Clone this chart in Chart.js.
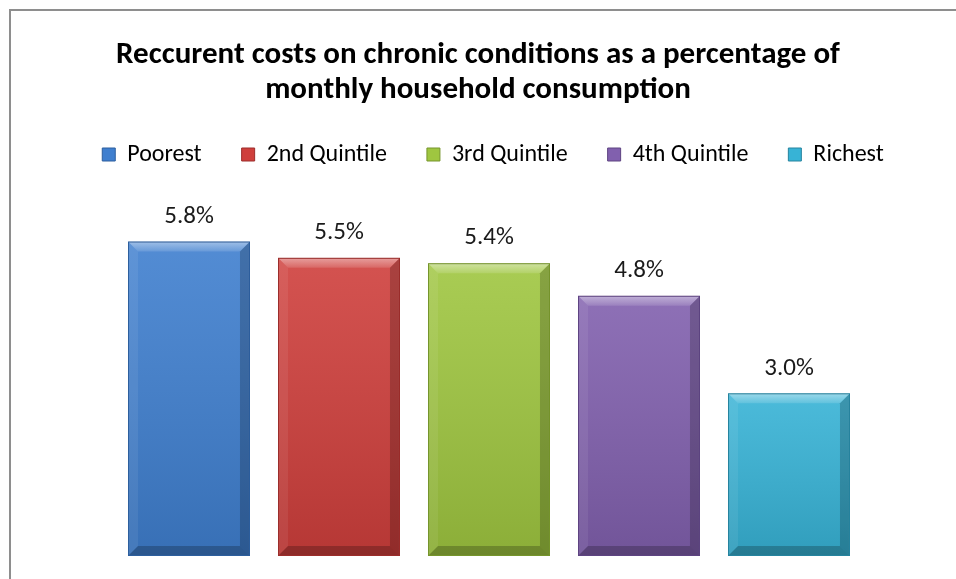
<!DOCTYPE html>
<html>
<head>
<meta charset="utf-8">
<script src="https://cdn.jsdelivr.net/npm/chart.js@4.4.1/dist/chart.umd.min.js"></script>
<style>
  html, body { margin: 0; padding: 0; background: #fff; overflow: hidden; }
  #frame {
    position: absolute; left: 9px; top: 9px; width: 1200px; height: 900px;
    border-left: 2px solid #8e8e8e; border-top: 2px solid #8e8e8e;
  }
  #chart { position: absolute; left: 0; top: 0; }
</style>
</head>
<body>
<div id="frame"></div>
<canvas id="chart" width="956" height="579"></canvas>
<script>
// Share of monthly household consumption spent on recurrent chronic-condition costs, by quintile
const quintiles = ['Poorest', '2nd Quintile', '3rd Quintile', '4th Quintile', 'Richest'];
const costShare = [5.8, 5.5, 5.4, 4.8, 3.0];
const fillColors = ['#3f7fcf', '#cf3f3c', '#9fc640', '#8160ae', '#37b3d6'];
const edgeColors = ['#2d5f9e', '#9c2d2b', '#76952c', '#5e4482', '#26849f'];
const titleLines = ['Reccurent costs on chronic conditions as a percentage of', 'monthly household consumption'];

const FONT = 'Carlito, Calibri, Lato, sans-serif';

// Nudge the legend row slightly right of the title's centre line
const legendShift = {
  id: 'legendShift',
  afterLayout(chart) {
    if (chart.legend) {
      chart.legend.left += 15;
      chart.legend.right += 15;
    }
  }
};

// Drop shadow behind the bars
const barShadow = {
  id: 'barShadow',
  beforeDatasetsDraw(chart) {
    const ctx = chart.ctx;
    ctx.save();
    ctx.shadowColor = 'rgba(0,0,0,0.35)';
    ctx.shadowBlur = 4;
    ctx.shadowOffsetX = 1;
    ctx.shadowOffsetY = 2;
  },
  afterDatasetsDraw(chart) {
    chart.ctx.restore();
  }
};

// Bevelled edges, shading and value labels on each bar
const barFinish = {
  id: 'barFinish',
  afterDatasetsDraw(chart) {
    const ctx = chart.ctx;
    chart.data.datasets.forEach((ds, i) => {
      const meta = chart.getDatasetMeta(i);
      if (meta.hidden) return;
      meta.data.forEach((bar, j) => {
        const p = bar.getProps(['x', 'y', 'base', 'width'], true);
        const l = p.x - p.width / 2, r = p.x + p.width / 2;
        const t = Math.min(p.y, p.base), b = Math.max(p.y, p.base);
        const e = 10;
        ctx.save();
        // vertical shading
        const g = ctx.createLinearGradient(0, t, 0, b);
        g.addColorStop(0, 'rgba(255,255,255,0.10)');
        g.addColorStop(1, 'rgba(0,0,0,0.12)');
        ctx.fillStyle = g;
        ctx.fillRect(l, t, r - l, b - t);
        const poly = (pts, fill) => {
          ctx.beginPath();
          ctx.moveTo(pts[0][0], pts[0][1]);
          for (let k = 1; k < pts.length; k++) ctx.lineTo(pts[k][0], pts[k][1]);
          ctx.closePath();
          ctx.fillStyle = fill;
          ctx.fill();
        };
        const tg = ctx.createLinearGradient(0, t, 0, t + e);
        tg.addColorStop(0, 'rgba(255,255,255,0.45)');
        tg.addColorStop(1, 'rgba(255,255,255,0.12)');
        poly([[l, t], [r, t], [r - e, t + e], [l + e, t + e]], tg);
        poly([[l, t], [l + e, t + e], [l + e, b - e], [l, b]], 'rgba(255,255,255,0.07)');
        poly([[r, t], [r, b], [r - e, b - e], [r - e, t + e]], 'rgba(0,0,0,0.20)');
        poly([[l, b], [l + e, b - e], [r - e, b - e], [r, b]], 'rgba(0,0,0,0.22)');
        ctx.strokeStyle = edgeColors[i];
        ctx.lineWidth = 1;
        ctx.strokeRect(l + 0.5, t + 0.5, r - l - 1, b - t - 1);
        // value label
        ctx.fillStyle = '#1a1a1a';
        ctx.font = '25px ' + FONT;
        ctx.textAlign = 'center';
        ctx.textBaseline = 'middle';
        ctx.fillText(ds.data[j].toFixed(1) + '%', p.x, t - 25);
        ctx.restore();
      });
    });
  }
};

const datasets = quintiles.map((name, i) => ({
  label: name,
  data: [costShare[i]],
  backgroundColor: fillColors[i],
  borderColor: edgeColors[i],
  borderWidth: 1,
  borderSkipped: false,
  clip: false,
  barPercentage: 0.813,
  categoryPercentage: 0.803
}));

new Chart(document.getElementById('chart'), {
  type: 'bar',
  data: { labels: [''], datasets },
  options: {
    responsive: false,
    animation: false,
    events: [],
    layout: { padding: { left: 0, right: 0, top: 0, bottom: 23 } },
    scales: {
      x: { display: false },
      y: {
        display: true,
        min: 0,
        max: 7,
        grid: { display: false },
        border: { display: false },
        ticks: { display: false },
        afterFit(scale) { scale.width = 22; }
      }
    },
    plugins: {
      title: {
        display: true,
        text: titleLines,
        color: '#000',
        font: { family: FONT, size: 31, weight: 'bold', lineHeight: 35 / 31 },
        padding: { top: 37.5, bottom: -5 }
      },
      legend: {
        display: true,
        position: 'top',
        labels: {
          color: '#000',
          font: { family: FONT, size: 24 },
          boxWidth: 13,
          boxHeight: 13,
          padding: 40
        }
      },
      tooltip: { enabled: false }
    }
  },
  plugins: [legendShift, barShadow, barFinish]
});
</script>
</body>
</html>
